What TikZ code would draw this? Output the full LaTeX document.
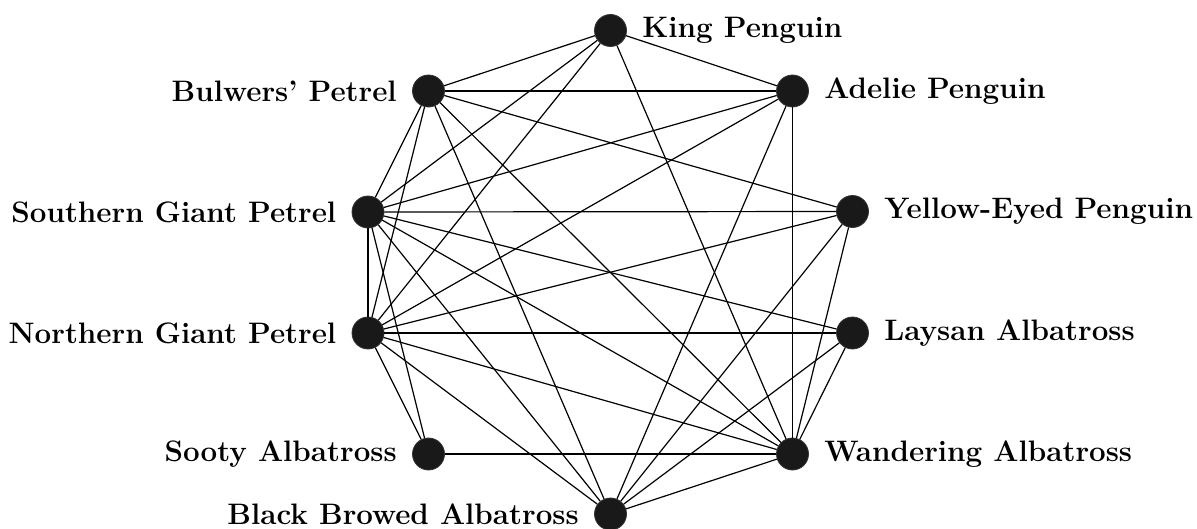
\documentclass[tikz,border=0pt]{standalone}
\begin{document}
\begin{tikzpicture}[x=0.5pt,y=-0.5pt,
  bird/.style={circle,fill=black!90,draw=black!80,line width=0.4pt,inner sep=0pt,minimum size=16pt},
  lab/.style={font=\fontsize{14.8}{17}\selectfont\bfseries,inner sep=0pt,label distance=7.5pt},
  edge/.style={line width=0.6pt,black}]
\useasboundingbox (0,0) rectangle (1197,529);
\node[bird,label={[lab]right:King Penguin}] (K) at (610.5,30.5) {};
\node[bird,label={[lab]right:Adelie Penguin}] (A) at (792.5,91) {};
\node[bird,label={[lab]right:Yellow-Eyed Penguin}] (Y) at (852.5,211.5) {};
\node[bird,label={[lab]right:Laysan Albatross}] (L) at (852.5,333) {};
\node[bird,label={[lab]right:Wandering Albatross}] (W) at (792.5,454) {};
\node[bird,label={[lab]left:Black Browed Albatross}] (B) at (610.5,514) {};
\node[bird,label={[lab]left:Sooty Albatross}] (S) at (428.5,454) {};
\node[bird,label={[lab]left:Northern Giant Petrel}] (N) at (368,333) {};
\node[bird,label={[lab]left:Southern Giant Petrel}] (G) at (368,212) {};
\node[bird,label={[lab]left:Bulwers' Petrel}] (P) at (428.5,91) {};
\foreach \a/\b in {K/A,K/W,K/P,K/G,K/N,
  A/P,A/G,A/N,A/B,A/W,
  Y/P,Y/G,Y/N,Y/W,Y/B,
  L/G,L/N,L/W,L/B,
  W/S,W/B,W/P,W/G,W/N,
  B/P,B/G,B/N,
  S/N,S/G,
  N/G,N/P,
  G/P}
  \draw[edge] (\a) -- (\b);
\end{tikzpicture}
\end{document}
